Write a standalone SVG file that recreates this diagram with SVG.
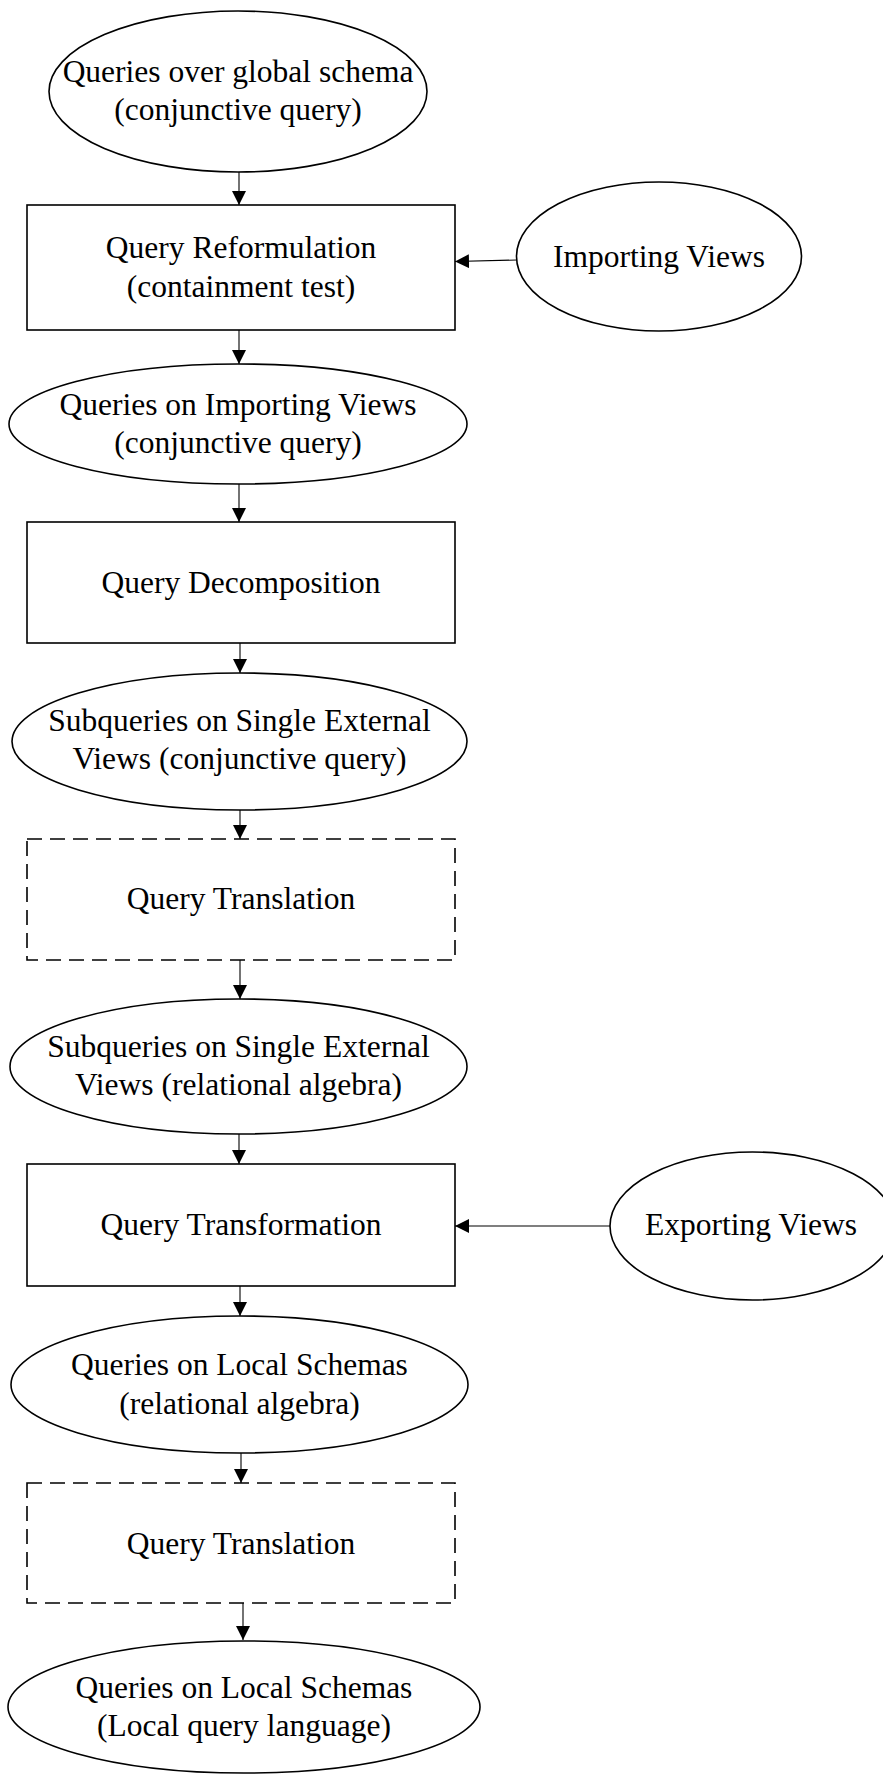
<svg xmlns="http://www.w3.org/2000/svg" width="883" height="1774" viewBox="0 0 883 1774">
<defs>
<marker id="ah" viewBox="0 0 14 14" refX="14" refY="7" markerWidth="14" markerHeight="14" markerUnits="userSpaceOnUse" orient="auto">
<path d="M0,0 L14,7 L0,14 z" fill="#000"/>
</marker>
<style>
.n{fill:#fff;stroke:#000;stroke-width:1.6}
.d{fill:#fff;stroke:#000;stroke-width:1.6;stroke-dasharray:15 8}
.t{font-family:"Liberation Serif","Times New Roman",serif;font-size:31.5px;fill:#000;text-anchor:middle}
.c{stroke:#000;stroke-width:1.1;fill:none;marker-end:url(#ah)}
</style>
</defs>
<rect width="883" height="1774" fill="#fff"/>
<g id="connectors">
<line class="c" x1="239" y1="172" x2="239" y2="205"/>
<line class="c" x1="517" y1="260" x2="455" y2="261.5"/>
<line class="c" x1="239" y1="330" x2="239" y2="364"/>
<line class="c" x1="239" y1="484" x2="239" y2="522"/>
<line class="c" x1="240" y1="643" x2="240" y2="673"/>
<line class="c" x1="240" y1="810" x2="240" y2="839"/>
<line class="c" x1="240" y1="960" x2="240" y2="999"/>
<line class="c" x1="239" y1="1134" x2="239" y2="1164"/>
<line class="c" x1="610" y1="1226" x2="455" y2="1226"/>
<line class="c" x1="240" y1="1286" x2="240" y2="1316"/>
<line class="c" x1="241" y1="1453" x2="241" y2="1483"/>
<line class="c" x1="243" y1="1603" x2="243" y2="1640"/>
</g>
<g id="n1">
<ellipse class="n" cx="238" cy="91.5" rx="189" ry="80.5"/>
<text class="t" x="238" y="82">Queries over global schema</text>
<text class="t" x="238" y="120">(conjunctive query)</text>
</g>
<g id="n2">
<rect class="n" x="27" y="205" width="428" height="125"/>
<text class="t" x="241" y="258">Query Reformulation</text>
<text class="t" x="241" y="297">(containment test)</text>
</g>
<g id="n3">
<ellipse class="n" cx="659" cy="256.5" rx="142.5" ry="74.5"/>
<text class="t" x="659" y="267">Importing Views</text>
</g>
<g id="n4">
<ellipse class="n" cx="238" cy="424" rx="229" ry="60"/>
<text class="t" x="238" y="415">Queries on Importing Views</text>
<text class="t" x="238" y="453">(conjunctive query)</text>
</g>
<g id="n5">
<rect class="n" x="27" y="522" width="428" height="121"/>
<text class="t" x="241" y="593">Query Decomposition</text>
</g>
<g id="n6">
<ellipse class="n" cx="239.5" cy="741.5" rx="227.5" ry="68.5"/>
<text class="t" x="239.5" y="731">Subqueries on Single External</text>
<text class="t" x="239.5" y="769">Views (conjunctive query)</text>
</g>
<g id="n7">
<rect class="d" x="27" y="839" width="428" height="121"/>
<text class="t" x="241" y="909">Query Translation</text>
</g>
<g id="n8">
<ellipse class="n" cx="238.5" cy="1066.5" rx="228.5" ry="67.5"/>
<text class="t" x="238.5" y="1057">Subqueries on Single External</text>
<text class="t" x="238.5" y="1095">Views (relational algebra)</text>
</g>
<g id="n9">
<rect class="n" x="27" y="1164" width="428" height="122"/>
<text class="t" x="241" y="1235">Query Transformation</text>
</g>
<g id="n10">
<ellipse class="n" cx="752.5" cy="1226" rx="142.5" ry="74"/>
<text class="t" x="751" y="1235">Exporting Views</text>
</g>
<g id="n11">
<ellipse class="n" cx="239.5" cy="1384.5" rx="228.5" ry="68.5"/>
<text class="t" x="239.5" y="1375">Queries on Local Schemas</text>
<text class="t" x="239.5" y="1414">(relational algebra)</text>
</g>
<g id="n12">
<rect class="d" x="27" y="1483" width="428" height="120"/>
<text class="t" x="241" y="1554">Query Translation</text>
</g>
<g id="n13">
<ellipse class="n" cx="244" cy="1707" rx="236" ry="66"/>
<text class="t" x="244" y="1698">Queries on Local Schemas</text>
<text class="t" x="244" y="1736">(Local query language)</text>
</g>
</svg>
